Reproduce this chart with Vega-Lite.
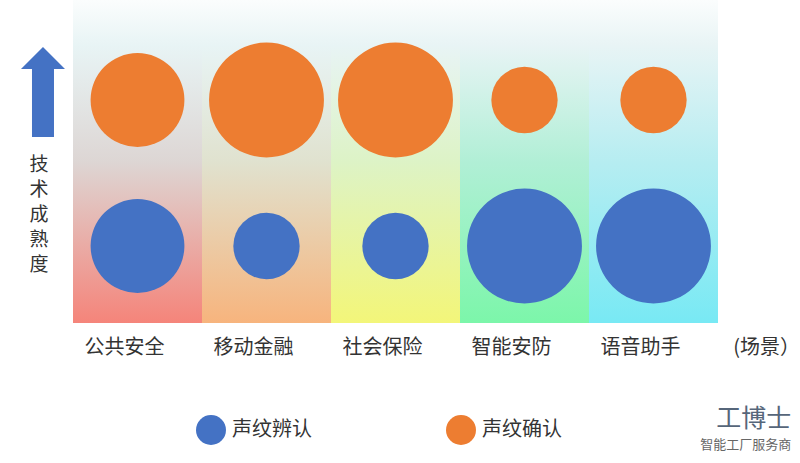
{
  "$schema": "https://vega.github.io/schema/vega-lite/v6.json",
  "background": "white",
  "padding": {"left": 0, "top": 0, "right": 0, "bottom": 0},
  "spacing": 4,
  "config": {
    "view": {"stroke": null},
    "font": "Noto Sans CJK SC"
  },
  "datasets": {
    "points": [
      {"scene": "公共安全", "type": "声纹辨认", "score": 2},
      {"scene": "公共安全", "type": "声纹确认", "score": 2},
      {"scene": "移动金融", "type": "声纹辨认", "score": 1},
      {"scene": "移动金融", "type": "声纹确认", "score": 3},
      {"scene": "社会保险", "type": "声纹辨认", "score": 1},
      {"scene": "社会保险", "type": "声纹确认", "score": 3},
      {"scene": "智能安防", "type": "声纹辨认", "score": 3},
      {"scene": "智能安防", "type": "声纹确认", "score": 1},
      {"scene": "语音助手", "type": "声纹辨认", "score": 3},
      {"scene": "语音助手", "type": "声纹确认", "score": 1}
    ],
    "scenes": [
      {"scene": "公共安全"},
      {"scene": "移动金融"},
      {"scene": "社会保险"},
      {"scene": "智能安防"},
      {"scene": "语音助手"}
    ],
    "axislabel": [
      {"label": "技术成熟度"}
    ]
  },
  "title": {
    "text": "工博士",
    "subtitle": "智能工厂服务商",
    "orient": "bottom",
    "anchor": "end",
    "frame": "bounds",
    "font": "Noto Sans CJK SC",
    "fontSize": 25,
    "fontWeight": "normal",
    "color": "#56667A",
    "subtitleFont": "Noto Sans CJK SC",
    "subtitleFontSize": 13,
    "subtitleColor": "#666666",
    "subtitlePadding": 7,
    "offset": 0,
    "dy": -38,
    "dx": -8
  },
  "hconcat": [
    {
      "width": 69,
      "height": 323,
      "data": {"name": "axislabel"},
      "layer": [
        {
          "mark": {
            "type": "point",
            "shape": "M-0.5,2.045L0.5,2.045L0.5,-1.045L1,-1.045L0,-2.045L-1,-1.045L-0.5,-1.045Z",
            "filled": true,
            "color": "#4472C4",
            "opacity": 1,
            "size": 1936
          },
          "encoding": {
            "x": {"datum": 0.623, "type": "quantitative", "scale": {"domain": [0, 1]}, "axis": null},
            "y": {"datum": 0.715, "type": "quantitative", "scale": {"domain": [0, 1]}, "axis": null}
          }
        },
        {
          "mark": {
            "type": "text",
            "text": ["技", "术", "成", "熟", "度"],
            "fontSize": 19,
            "lineHeight": 25,
            "color": "#333333",
            "align": "center",
            "baseline": "middle",
            "font": "Noto Sans CJK SC"
          },
          "encoding": {
            "x": {"datum": 0.565, "type": "quantitative", "scale": {"domain": [0, 1]}, "axis": null},
            "y": {"datum": 0.49, "type": "quantitative", "scale": {"domain": [0, 1]}, "axis": null}
          }
        }
      ]
    },
    {
      "width": 645,
      "height": 323,
      "encoding": {
        "x": {
          "field": "scene",
          "type": "nominal",
          "scale": {"domain": ["公共安全", "移动金融", "社会保险", "智能安防", "语音助手"], "paddingInner": 0, "paddingOuter": 0},
          "axis": {
            "title": "(场景）",
            "titleX": 693,
            "titleY": 24,
            "titleAlign": "center",
            "titleBaseline": "middle",
            "titleFontSize": 20,
            "titleFontWeight": "normal",
            "titleColor": "#333333",
            "titleFont": "Noto Sans CJK SC",
            "labelAngle": 0,
            "labelFontSize": 20,
            "labelColor": "#333333",
            "labelFont": "Noto Sans CJK SC",
            "labelPadding": 14,
            "labelOffset": -13,
            "domain": false,
            "ticks": false,
            "grid": false
          }
        }
      },
      "layer": [
        {
          "data": {"name": "scenes"},
          "transform": [{"filter": "datum.scene === '公共安全'"}],
          "mark": {"type": "rect", "color": {"gradient": "linear", "x1": 0, "y1": 1, "x2": 0, "y2": 0,
            "stops": [{"offset": 0, "color": "#F5847A"}, {"offset": 0.5, "color": "#DDD6D4"}, {"offset": 0.86, "color": "#E8F4F5"}, {"offset": 1, "color": "#FBFDFD"}]}}
        },
        {
          "data": {"name": "scenes"},
          "transform": [{"filter": "datum.scene === '移动金融'"}],
          "mark": {"type": "rect", "color": {"gradient": "linear", "x1": 0, "y1": 1, "x2": 0, "y2": 0,
            "stops": [{"offset": 0, "color": "#F7B47D"}, {"offset": 0.5, "color": "#E0E2CF"}, {"offset": 0.86, "color": "#E8F4F5"}, {"offset": 1, "color": "#FBFDFD"}]}}
        },
        {
          "data": {"name": "scenes"},
          "transform": [{"filter": "datum.scene === '社会保险'"}],
          "mark": {"type": "rect", "color": {"gradient": "linear", "x1": 0, "y1": 1, "x2": 0, "y2": 0,
            "stops": [{"offset": 0, "color": "#F3F679"}, {"offset": 0.5, "color": "#DDF3C6"}, {"offset": 0.86, "color": "#E8F4F5"}, {"offset": 1, "color": "#FBFDFD"}]}}
        },
        {
          "data": {"name": "scenes"},
          "transform": [{"filter": "datum.scene === '智能安防'"}],
          "mark": {"type": "rect", "color": {"gradient": "linear", "x1": 0, "y1": 1, "x2": 0, "y2": 0,
            "stops": [{"offset": 0, "color": "#7CF6AA"}, {"offset": 0.5, "color": "#B1EFD6"}, {"offset": 0.86, "color": "#E8F4F5"}, {"offset": 1, "color": "#FBFDFD"}]}}
        },
        {
          "data": {"name": "scenes"},
          "transform": [{"filter": "datum.scene === '语音助手'"}],
          "mark": {"type": "rect", "color": {"gradient": "linear", "x1": 0, "y1": 1, "x2": 0, "y2": 0,
            "stops": [{"offset": 0, "color": "#78E9F4"}, {"offset": 0.5, "color": "#B6EDF1"}, {"offset": 0.86, "color": "#E8F4F5"}, {"offset": 1, "color": "#FBFDFD"}]}}
        },
        {
          "data": {"name": "points"},
          "mark": {"type": "circle", "opacity": 1},
          "encoding": {
            "y": {
              "field": "type",
              "type": "nominal",
              "scale": {"type": "point", "domain": ["声纹确认", "声纹辨认"], "padding": 0.606, "align": 0.565},
              "axis": null
            },
            "color": {
              "field": "type",
              "type": "nominal",
              "scale": {"domain": ["声纹辨认", "声纹确认"], "range": ["#4472C4", "#ED7D31"]},
              "legend": {
                "title": null,
                "orient": "none",
                "legendX": 196,
                "legendY": 415,
                "direction": "horizontal",
                "symbolType": "circle",
                "symbolSize": 900,
                "symbolOpacity": 1,
                "symbolStrokeWidth": 0,
                "labelFontSize": 20,
                "labelFont": "Noto Sans CJK SC",
                "labelColor": "#333333",
                "labelOffset": 6,
                "columnPadding": 134,
                "padding": 0
              }
            },
            "size": {
              "field": "score",
              "type": "quantitative",
              "scale": {"domain": [0, 3], "range": [0, 13200]},
              "legend": null
            }
          }
        }
      ]
    }
  ]
}
